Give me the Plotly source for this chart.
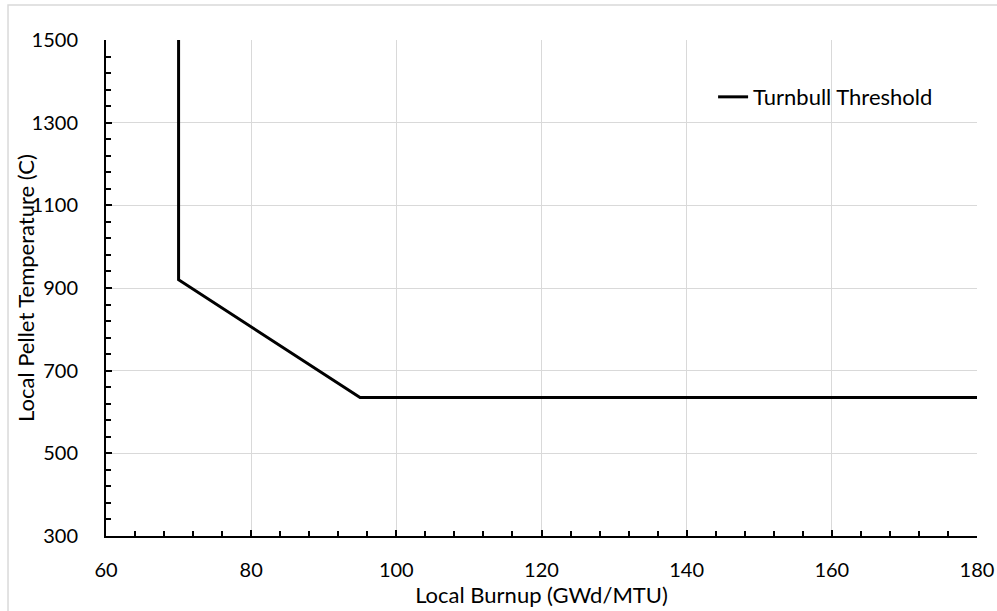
import plotly.graph_objects as go

burnup = [70, 70, 95, 180]
temperature = [1500, 920, 635, 635]
series_name = "Turnbull Threshold"
x_ticks = [60, 80, 100, 120, 140, 160, 180]
y_ticks = [300, 500, 700, 900, 1100, 1300, 1500]
x_title = "Local Burnup (GWd/MTU)"
y_title = "Local Pellet Temperature (C)"

FONT = "Lato"
FS = 22
TFS = 20

fig = go.Figure()
fig.add_trace(go.Scatter(
    x=burnup, y=temperature, mode="lines", name=series_name,
    line=dict(color="black", width=3),
))

fig.update_layout(
    width=997, height=611,
    margin=dict(l=106, r=20, t=40, b=75, autoexpand=False),
    paper_bgcolor="white", plot_bgcolor="white",
    font=dict(family=FONT, size=FS, color="#000000"),
    showlegend=True,
    legend=dict(x=0.697, y=0.885, xanchor="left", yanchor="middle",
                bgcolor="rgba(0,0,0,0)", font=dict(size=FS, family=FONT),
                itemwidth=30),
    shapes=[
        dict(type="rect", xref="paper", yref="paper", x0=0.665, x1=0.986,
             y0=0.829, y1=0.966, fillcolor="white", line=dict(width=0),
             layer="below"),
        dict(type="rect", xref="paper", yref="paper", x0=-0.1125, x1=1.1,
             y0=-0.3, y1=1.0706, fillcolor="rgba(0,0,0,0)",
             line=dict(color="#d9d9d9", width=1.5), layer="below"),
    ],
    annotations=[
        dict(text=y_title, xref="paper", yref="paper", x=-0.093, y=0.5,
             xanchor="center", yanchor="middle", textangle=-90, showarrow=False,
             font=dict(size=FS, family=FONT, color="#000000")),
    ],
)

fig.update_xaxes(
    range=[60, 180], tickvals=x_ticks, ticktext=[str(v) for v in x_ticks],
    showgrid=True, gridcolor="#d9d9d9", gridwidth=1,
    showline=True, linecolor="black", linewidth=2,
    ticks="inside", ticklen=6, tickwidth=1.5, tickcolor="black",
    minor=dict(dtick=4, tick0=60, ticks="inside", ticklen=5, tickwidth=1.5,
               tickcolor="black", showgrid=False),
    zeroline=False, automargin=False,
    title=dict(text=x_title, font=dict(size=FS, family=FONT), standoff=2),
    tickfont=dict(size=TFS, family=FONT),
    ticklabelstandoff=15,
)
fig.update_yaxes(
    range=[300, 1500], tickvals=y_ticks, ticktext=[str(v) for v in y_ticks],
    showgrid=True, gridcolor="#d9d9d9", gridwidth=1,
    showline=True, linecolor="black", linewidth=2,
    ticks="inside", ticklen=6, tickwidth=1.5, tickcolor="black",
    minor=dict(dtick=40, tick0=300, ticks="inside", ticklen=5, tickwidth=1.5,
               tickcolor="black", showgrid=False),
    zeroline=False, automargin=False,
    tickfont=dict(size=TFS, family=FONT),
    ticklabelstandoff=22,
)

fig.write_html("out.html")
